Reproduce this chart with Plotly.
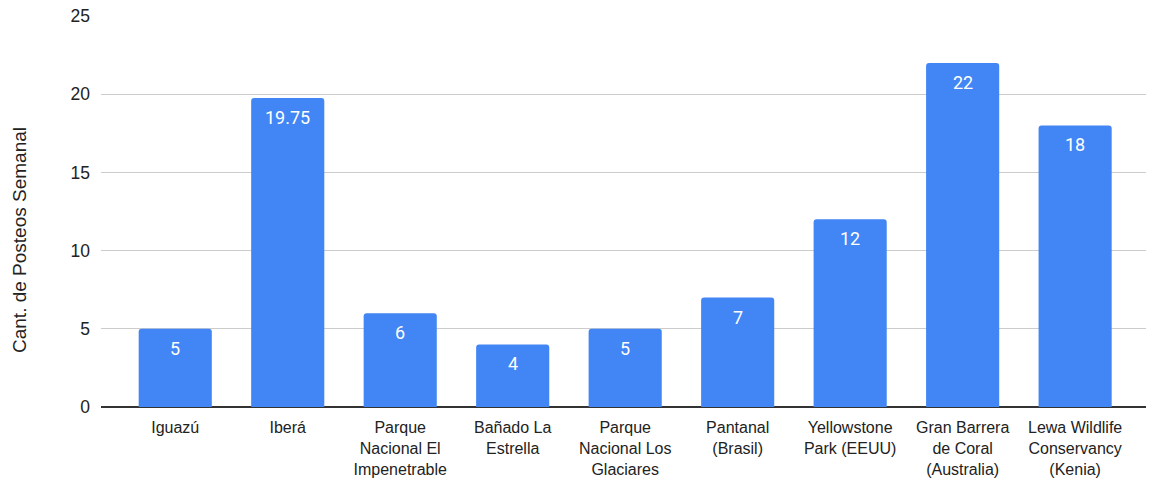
import plotly.graph_objects as go

categories = [
    "Iguazú",
    "Iberá",
    "Parque<br>Nacional El<br>Impenetrable",
    "Bañado La<br>Estrella",
    "Parque<br>Nacional Los<br>Glaciares",
    "Pantanal<br>(Brasil)",
    "Yellowstone<br>Park (EEUU)",
    "Gran Barrera<br>de Coral<br>(Australia)",
    "Lewa Wildlife<br>Conservancy<br>(Kenia)",
]
posts = [5, 19.75, 6, 4, 5, 7, 12, 22, 18]
y_ticks = [0, 5, 10, 15, 20, 25]

x_pos = list(range(len(categories)))

fig = go.Figure(
    go.Bar(
        x=x_pos,
        y=posts,
        marker=dict(color="#4285F4", cornerradius=3, line=dict(width=0)),
        width=0.65,
        hoverinfo="skip",
    )
)

# value labels placed just inside the top of each bar
for xi, v in zip(x_pos, posts):
    fig.add_annotation(
        x=xi,
        y=v,
        xref="x",
        yref="y",
        text=f"{v:g}",
        showarrow=False,
        yanchor="top",
        yshift=-7,
        font=dict(family="Roboto", size=18, color="#ffffff"),
    )

# y-axis title
fig.add_annotation(
    xref="paper",
    yref="paper",
    x=(19 - 101) / 1045,
    y=(407 - 240) / 391,
    xanchor="center",
    yanchor="middle",
    text="Cant. de Posteos Semanal",
    textangle=-90,
    showarrow=False,
    font=dict(family="Liberation Sans, Arial", size=19, color="#222222"),
)

fig.update_layout(
    width=1149,
    height=479,
    margin=dict(l=101, r=3, t=16, b=72, autoexpand=False),
    plot_bgcolor="#ffffff",
    paper_bgcolor="#ffffff",
    showlegend=False,
    font=dict(family="Liberation Sans, Arial", size=16, color="#222222"),
)

fig.update_xaxes(
    tickmode="array",
    tickvals=x_pos,
    ticktext=categories,
    range=[-0.66, 8.63],
    showgrid=False,
    showline=False,
    ticks="",
    ticklabelstandoff=9,
    tickfont=dict(size=16, color="#222222"),
    zeroline=False,
    automargin=False,
)

fig.update_yaxes(
    range=[0, 25],
    tickmode="array",
    tickvals=y_ticks,
    showgrid=True,
    gridcolor="#cccccc",
    gridwidth=1,
    zeroline=True,
    zerolinecolor="#333333",
    zerolinewidth=1.5,
    ticks="",
    ticklabelstandoff=10,
    tickfont=dict(size=17.5, color="#222222"),
    automargin=False,
)

fig.write_html("out.html")
